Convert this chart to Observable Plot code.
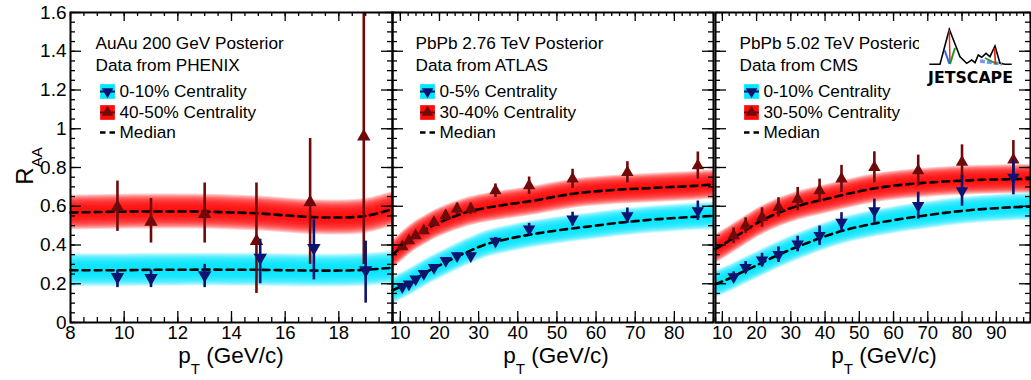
<!DOCTYPE html>
<html><head><meta charset="utf-8">
<script src="https://cdn.jsdelivr.net/npm/d3@7"></script>
<script src="https://cdn.jsdelivr.net/npm/@observablehq/plot@0.6"></script>
<style>
body{margin:0;background:#fff;font-family:"Liberation Sans",Arial,Helvetica,sans-serif;}
#wrap{position:relative;width:1031px;height:380px;overflow:hidden;background:#fff;}
.panel{position:absolute;top:0;}
.panel svg{overflow:visible;}
.xt{position:absolute;top:346px;font-size:22.5px;line-height:20px;white-space:nowrap;transform:translateX(-50%);color:#000;}
.xt sub{font-size:15px;vertical-align:-11px;line-height:0;}
.yt{position:absolute;left:25px;top:166px;font-size:24px;line-height:24px;white-space:nowrap;transform:translate(-50%,-50%) rotate(-90deg);color:#000;}
.yt sub{font-size:15px;vertical-align:-9px;line-height:0;}
</style></head><body><div id="wrap"></div>
<script>
// ---------------- data ----------------
// Panel 1: AuAu 200 GeV, PHENIX
const p1Title = ["AuAu 200 GeV Posterior", "Data from PHENIX"];
const p1Legend = ["0-10% Centrality", "40-50% Centrality", "Median"];
const p1BlueX = [9.75, 11, 13, 15.07, 17.07, 19.0];
const p1BlueY = [0.235, 0.23, 0.245, 0.335, 0.385, 0.27];
const p1BlueLo = [0.18, 0.18, 0.18, 0.20, 0.22, 0.10];
const p1BlueHi = [0.27, 0.27, 0.30, 0.43, 0.53, 0.42];
const p1RedX = [9.75, 11, 13, 14.93, 16.93, 18.93];
const p1RedY = [0.595, 0.52, 0.56, 0.42, 0.62, 0.96];
const p1RedLo = [0.47, 0.41, 0.41, 0.15, 0.30, 0.30];
const p1RedHi = [0.73, 0.64, 0.72, 0.72, 0.95, 1.90];
const p1MedX = [8, 9, 10, 11, 12, 13, 14, 15, 16, 17, 18, 19, 20];
const p1MedBlue = [0.27, 0.27, 0.27, 0.272, 0.272, 0.273, 0.272, 0.272, 0.27, 0.268, 0.268, 0.272, 0.283];
const p1MedRed = [0.568, 0.57, 0.572, 0.573, 0.573, 0.572, 0.568, 0.563, 0.553, 0.544, 0.542, 0.55, 0.585];

// Panel 2: PbPb 2.76 TeV, ATLAS
const p2Title = ["PbPb 2.76 TeV Posterior", "Data from ATLAS"];
const p2Legend = ["0-5% Centrality", "30-40% Centrality", "Median"];
const p2X = [10.5, 12.2, 13.9, 16.0, 18.6, 21.6, 24.5, 28.0, 34.3, 42.9, 54.0, 68.0, 86.0];
const p2BlueY = [0.184, 0.198, 0.224, 0.253, 0.284, 0.319, 0.344, 0.344, 0.419, 0.482, 0.534, 0.551, 0.577];
const p2BlueErr = [0.01, 0.01, 0.012, 0.012, 0.013, 0.014, 0.015, 0.016, 0.02, 0.03, 0.035, 0.04, 0.05];
const p2RedY = [0.391, 0.422, 0.448, 0.474, 0.517, 0.551, 0.586, 0.586, 0.68, 0.706, 0.741, 0.775, 0.81];
const p2RedErr = [0.015, 0.015, 0.015, 0.017, 0.02, 0.025, 0.03, 0.03, 0.035, 0.045, 0.05, 0.055, 0.07];
const p2MedX = [8, 10, 12, 14, 16, 18, 20, 22, 25, 28, 32, 36, 40, 45, 50, 55, 60, 65, 70, 75, 80, 85, 90];
const p2MedBlue = [0.165, 0.185, 0.205, 0.228, 0.252, 0.275, 0.295, 0.315, 0.345, 0.372, 0.405, 0.425, 0.442, 0.46, 0.475, 0.488, 0.50, 0.513, 0.523, 0.532, 0.539, 0.545, 0.55];
const p2MedRed = [0.35, 0.385, 0.42, 0.45, 0.474, 0.497, 0.517, 0.534, 0.556, 0.575, 0.592, 0.605, 0.617, 0.632, 0.651, 0.667, 0.677, 0.685, 0.69, 0.695, 0.70, 0.705, 0.713];

// Panel 3: PbPb 5.02 TeV, CMS
const p3Title = ["PbPb 5.02 TeV Posterior", "Data from CMS"];
const p3Legend = ["0-10% Centrality", "30-50% Centrality", "Median"];
const p3X = [13.3, 16.8, 21.6, 26.4, 32.0, 38.4, 44.8, 54.4, 67.2, 80.0, 95.0];
const p3BlueY = [0.236, 0.284, 0.322, 0.35, 0.405, 0.448, 0.517, 0.577, 0.603, 0.68, 0.749];
const p3BlueErr = [0.025, 0.03, 0.035, 0.04, 0.04, 0.05, 0.05, 0.06, 0.07, 0.08, 0.09];
const p3RedY = [0.448, 0.5, 0.542, 0.594, 0.637, 0.68, 0.741, 0.801, 0.784, 0.827, 0.839];
const p3RedErr = [0.04, 0.04, 0.05, 0.05, 0.06, 0.06, 0.07, 0.08, 0.08, 0.09, 0.1];
const p3MedX = [8, 10, 13, 16, 20, 25, 30, 35, 40, 45, 50, 55, 60, 65, 70, 75, 80, 85, 90, 95, 100];
const p3MedBlue = [0.198, 0.212, 0.235, 0.262, 0.295, 0.338, 0.377, 0.412, 0.445, 0.473, 0.495, 0.513, 0.528, 0.542, 0.554, 0.566, 0.576, 0.584, 0.59, 0.595, 0.598];
const p3MedRed = [0.379, 0.40, 0.434, 0.467, 0.512, 0.556, 0.59, 0.616, 0.636, 0.657, 0.677, 0.694, 0.706, 0.715, 0.722, 0.728, 0.732, 0.736, 0.738, 0.74, 0.741];

// tick labels
const yTickLabels = [0, 0.2, 0.4, 0.6, 0.8, 1, 1.2, 1.4, 1.6];
const p1XLabels = [8, 10, 12, 14, 16, 18];
const p2XLabels = [10, 20, 30, 40, 50, 60, 70, 80];
const p3XLabels = [10, 20, 30, 40, 50, 60, 70, 80, 90];

// ---------------- style ----------------
const NAVY = "#0c1470", MAROON = "#700a0a", CYAN = "#00e8ff", RED = "#ff0a0a";
const FONT = "'Liberation Sans', Arial, Helvetica, sans-serif";
const H = 380, MT = 12, MB = 58, IH = H - MT - MB;
const fmt = d3.format("~g");

const hline = {draw(ctx, size) { const r = Math.sqrt(size / Math.PI); ctx.moveTo(-r, 0); ctx.lineTo(r, 0); }};

function band(xs, ys, half, color) {
  const rows = xs.map((x, i) => ({x, y: ys[i]}));
  const N = 16;
  return d3.range(1, N + 1).map(k => Plot.areaY(rows, {
    x: "x", y1: d => d.y - half * k / N, y2: d => d.y + half * k / N,
    fill: color, fillOpacity: 0.2, curve: "catmull-rom"
  }));
}
function median(xs, ys) {
  const rows = xs.map((x, i) => ({x, y: ys[i]}));
  return Plot.line(rows, {x: "x", y: "y", stroke: "#000", strokeWidth: 2.6, strokeDasharray: "7,5", curve: "catmull-rom"});
}
function points(xs, ys, lo, hi, color, down, r) {
  const rows = xs.map((x, i) => ({x, y: ys[i], lo: lo[i], hi: hi[i]}));
  return [
    Plot.ruleX(rows, {x: "x", y1: "lo", y2: "hi", stroke: color, strokeWidth: 2.6, clip: true}),
    Plot.dot(rows, {x: "x", y: "y", symbol: "triangle", r, fill: color, rotate: down ? 180 : 0, clip: true})
  ];
}
function legend(title, labels, dx0) {
  const sw = dx0 + 12, tx = dx0 + 24;
  const txt = (s, dx, dy) => Plot.text([s], {frameAnchor: "top-left", dx, dy, text: d => d, textAnchor: "start", lineAnchor: "middle", fontSize: 17.2, fill: "#000"});
  return [
    txt(title[0], dx0, 31), txt(title[1], dx0, 53),
    Plot.dot([0], {frameAnchor: "top-left", dx: sw, dy: 79, symbol: "square", r: 8.3, fill: CYAN}),
    Plot.dot([0], {frameAnchor: "top-left", dx: sw, dy: 79, symbol: hline, r: 7.5, stroke: NAVY, strokeWidth: 2, fill: "none"}),
    Plot.dot([0], {frameAnchor: "top-left", dx: sw, dy: 79, symbol: "triangle", r: 4.3, fill: NAVY, rotate: 180}),
    Plot.dot([0], {frameAnchor: "top-left", dx: sw, dy: 100, symbol: "square", r: 8.3, fill: RED}),
    Plot.dot([0], {frameAnchor: "top-left", dx: sw, dy: 100, symbol: hline, r: 7.5, stroke: MAROON, strokeWidth: 2, fill: "none"}),
    Plot.dot([0], {frameAnchor: "top-left", dx: sw, dy: 100, symbol: "triangle", r: 4.3, fill: MAROON}),
    Plot.dot([0], {frameAnchor: "top-left", dx: sw, dy: 120, symbol: hline, r: 7.5, stroke: "#000", strokeWidth: 2.6, strokeDasharray: "5.5,4", fill: "none"}),
    txt(labels[0], tx, 79), txt(labels[1], tx, 100), txt(labels[2], tx, 120)
  ];
}
function ticks(xMajor, xMinor, iw) {
  const yMajor = d3.range(0, 1.61, 0.2), yMinor = d3.range(0, 1.61, 0.05);
  const o = {stroke: "#000", strokeWidth: 1.3};
  return [
    Plot.tickX(xMajor, {...o, x: d => d, insetTop: IH - 11}),
    Plot.tickX(xMajor, {...o, x: d => d, insetBottom: IH - 9}),
    Plot.tickX(xMinor, {...o, x: d => d, insetTop: IH - 5}),
    Plot.tickX(xMinor, {...o, x: d => d, insetBottom: IH - 4}),
    Plot.tickY(yMajor, {...o, y: d => d, insetRight: iw - 11}),
    Plot.tickY(yMajor, {...o, y: d => d, insetLeft: iw - 11}),
    Plot.tickY(yMinor, {...o, y: d => d, insetRight: iw - 5}),
    Plot.tickY(yMinor, {...o, y: d => d, insetLeft: iw - 5})
  ];
}

function panel(cfg) {
  const iw = cfg.width - cfg.mL - cfg.mR;
  const marks = [
    ...band(cfg.medX, cfg.medRed, cfg.halfRed, RED),
    ...band(cfg.medX, cfg.medBlue, cfg.halfBlue, CYAN),
    median(cfg.medX, cfg.medRed),
    median(cfg.medX, cfg.medBlue),
    ...points(cfg.redX, cfg.redY, cfg.redLo, cfg.redHi, MAROON, false, cfg.r),
    ...points(cfg.blueX, cfg.blueY, cfg.blueLo, cfg.blueHi, NAVY, true, cfg.r),
    ...ticks(cfg.xMajor, cfg.xMinor, iw),
    Plot.text(cfg.xLabels, {x: d => d, frameAnchor: "bottom", dy: 11, text: d => fmt(d), textAnchor: "middle", lineAnchor: "middle", fontSize: 18.5, fill: "#000"}),
    Plot.frame({stroke: "#000", strokeWidth: 2}),
    ...legend(cfg.title, cfg.legend, cfg.legDx)
  ];
  if (cfg.yAxis) marks.push(Plot.text(yTickLabels, {y: d => d, frameAnchor: "left", dx: -4, text: d => fmt(d), textAnchor: "end", lineAnchor: "middle", fontSize: 19, fill: "#000"}));
  return Plot.plot({
    width: cfg.width, height: H,
    marginLeft: cfg.mL, marginRight: cfg.mR, marginTop: MT, marginBottom: MB,
    style: {fontFamily: FONT, fontSize: "19px", color: "#000", background: "transparent", overflow: "visible"},
    x: {domain: cfg.xDomain, label: null, axis: null},
    y: {domain: [0, 1.6], label: null, axis: null},
    marks
  });
}

const wrap = document.getElementById("wrap");
const cfgs = [
  {left: 0, width: 392, mL: 70, mR: 0, xDomain: [8, 20], xMajor: d3.range(8, 20.01, 2), xMinor: d3.range(8, 20.01, 0.5), xLabels: p1XLabels,
   medX: p1MedX, medBlue: p1MedBlue, medRed: p1MedRed, halfBlue: 0.085, halfRed: 0.09,
   blueX: p1BlueX, blueY: p1BlueY, blueLo: p1BlueLo, blueHi: p1BlueHi,
   redX: p1RedX, redY: p1RedY, redLo: p1RedLo, redHi: p1RedHi, r: 5,
   title: p1Title, legend: p1Legend, legDx: 25, yAxis: true},
  {left: 392, width: 321, mL: 0, mR: 0, xDomain: [8, 90], xMajor: d3.range(10, 90.01, 10), xMinor: d3.range(8, 90.01, 2), xLabels: p2XLabels,
   medX: p2MedX, medBlue: p2MedBlue, medRed: p2MedRed, halfBlue: 0.07, halfRed: 0.075,
   blueX: p2X, blueY: p2BlueY, blueLo: p2BlueY.map((v, i) => v - p2BlueErr[i]), blueHi: p2BlueY.map((v, i) => v + p2BlueErr[i]),
   redX: p2X, redY: p2RedY, redLo: p2RedY.map((v, i) => v - p2RedErr[i]), redHi: p2RedY.map((v, i) => v + p2RedErr[i]), r: 4.6,
   title: p2Title, legend: p2Legend, legDx: 23, yAxis: false},
  {left: 713, width: 318, mL: 2, mR: 1, xDomain: [8, 100], xMajor: d3.range(10, 100.01, 10), xMinor: d3.range(8, 100.01, 2), xLabels: p3XLabels,
   medX: p3MedX, medBlue: p3MedBlue, medRed: p3MedRed, halfBlue: 0.07, halfRed: 0.075,
   blueX: p3X, blueY: p3BlueY, blueLo: p3BlueY.map((v, i) => v - p3BlueErr[i]), blueHi: p3BlueY.map((v, i) => v + p3BlueErr[i]),
   redX: p3X, redY: p3RedY, redLo: p3RedY.map((v, i) => v - p3RedErr[i]), redHi: p3RedY.map((v, i) => v + p3RedErr[i]), r: 4.6,
   title: p3Title, legend: p3Legend, legDx: 24, yAxis: false}
];
const titleCenters = [231, 556, 884];
cfgs.forEach((c, i) => {
  const d = document.createElement("div");
  d.className = "panel"; d.style.left = c.left + "px";
  d.appendChild(panel(c));
  wrap.appendChild(d);
  const t = document.createElement("div");
  t.className = "xt"; t.style.left = titleCenters[i] + "px";
  t.innerHTML = "p<sub>T</sub> (GeV/c)";
  wrap.appendChild(t);
});
const yt = document.createElement("div");
yt.className = "yt"; yt.innerHTML = "R<sub>AA</sub>";
wrap.appendChild(yt);

// JETSCAPE logo overlay
const logo = document.createElement("div");
logo.style.cssText = "position:absolute;left:919px;top:26px;";
logo.innerHTML = `<svg width="97" height="62" viewBox="-3 0 97 62">
<rect x="-3" y="0" width="97" height="62" fill="#fff"/>
<polyline points="7.3,38.3 18,38.3 27.3,3.3 38,30.7 44.7,37.3 49.7,34 53,36.7 56.3,29 59.7,31.3 64,27.3 68,30.7 73,20 78,37.3 83,38.3 89.7,38.3" fill="none" stroke="#000" stroke-width="1.6"/>
<line x1="27.3" y1="4" x2="28" y2="38" stroke="#e8231f" stroke-width="1.5"/>
<line x1="22.5" y1="24" x2="27.5" y2="38" stroke="#3a5ae8" stroke-width="2"/>
<line x1="28" y1="38" x2="33" y2="22" stroke="#1f9a2a" stroke-width="2"/>
<line x1="58" y1="35" x2="80" y2="38" stroke="#7a95f0" stroke-width="3.5" stroke-dasharray="5,2"/>
<line x1="63" y1="32" x2="75" y2="38" stroke="#1f9a2a" stroke-width="1.8"/>
<line x1="72.5" y1="22" x2="73.5" y2="38" stroke="#e8231f" stroke-width="1.8"/>
<text x="6" y="57" font-family="'DejaVu Sans', sans-serif" font-weight="bold" font-size="15" textLength="85" lengthAdjust="spacingAndGlyphs" fill="#000">JETSCAPE</text>
</svg>`;
wrap.appendChild(logo);
</script>
</body></html>
